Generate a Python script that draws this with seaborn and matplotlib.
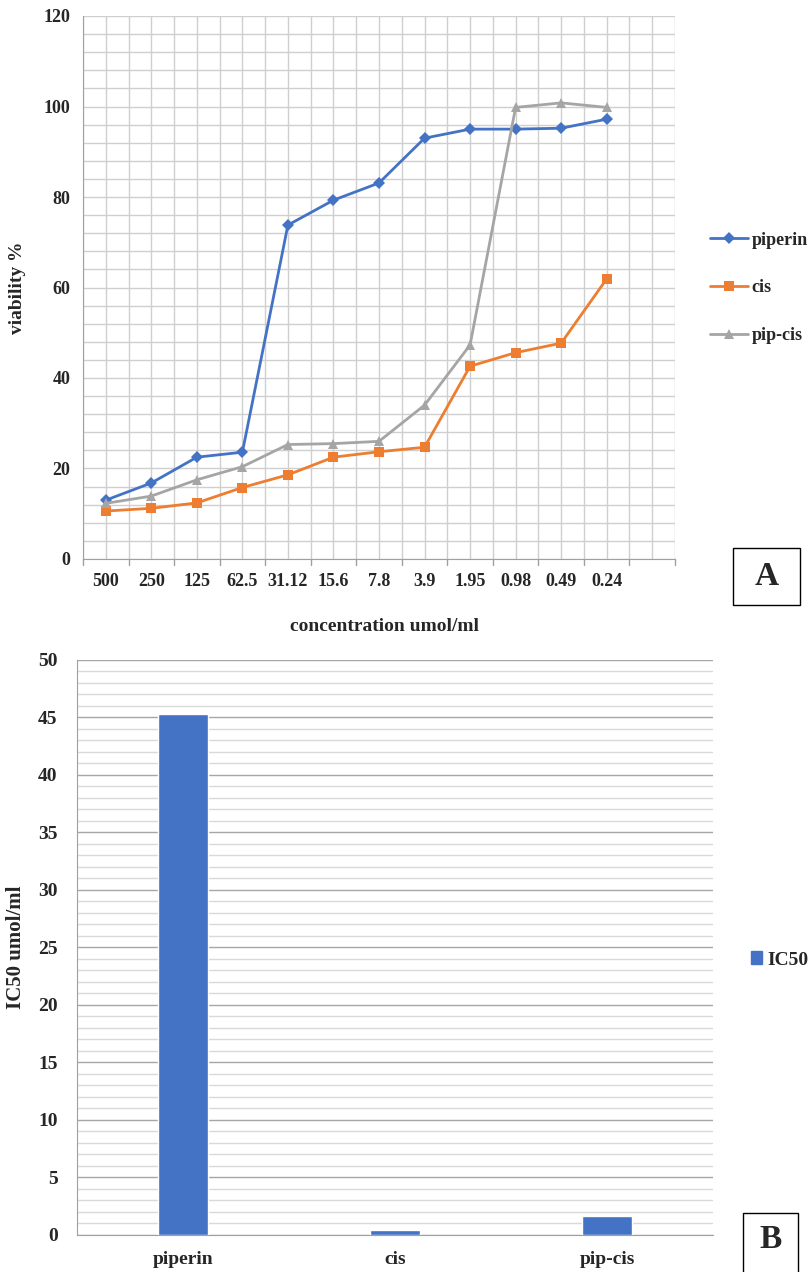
import matplotlib as mpl
mpl.use('Agg')
from matplotlib import pyplot as plt
from matplotlib.patches import Patch, Rectangle
from matplotlib.ticker import MultipleLocator
import numpy as np
import pandas as pd
import seaborn as sb

sb.set_style("white")
mpl.rcParams['font.family'] = ['Liberation Serif', 'DejaVu Serif']
mpl.rcParams['font.weight'] = 'bold'

# panel A data
conc = ["500", "250", "125", "62.5", "31.12", "15.6", "7.8", "3.9",
        "1.95", "0.98", "0.49", "0.24"]
piperin = [13.0, 16.8, 22.5, 23.6, 73.8, 79.3, 83.1, 93.0, 95.0, 95.0, 95.2, 97.2]
cis = [10.6, 11.2, 12.4, 15.8, 18.6, 22.5, 23.7, 24.7, 42.6, 45.6, 47.7, 61.9]
pipcis = [12.3, 13.9, 17.5, 20.4, 25.3, 25.5, 26.0, 34.0, 47.3, 99.8, 100.8, 99.8]
series_names = ["piperin", "cis", "pip-cis"]
colors = ['#4472C4', '#ED7D31', '#A5A5A5']
markers = ['D', 's', '^']

# panel B data
compounds = ["piperin", "cis", "pip-cis"]
ic50 = [45.3, 0.4, 1.65]

df = pd.DataFrame({
    "conc": conc * 3,
    "viability": piperin + cis + pipcis,
    "series": sum([[n] * len(conc) for n in series_names], []),
})

fig = plt.figure(figsize=(8.1, 12.72), dpi=100)
ax1 = fig.add_axes([83/810, 1 - 559/1272, 592/810, 543/1272])
ax2 = fig.add_axes([77/810, 1 - 1234.7/1272, 636/810, 574.7/1272])

# ---- panel A
sb.lineplot(data=df, x="conc", y="viability", hue="series", style="series",
            palette=colors, markers=markers, dashes=False, sort=False,
            linewidth=2, markersize=6.5, markeredgewidth=0, ax=ax1, legend=False)
ax1.set_xlim(-0.5, 12.5)
ax1.set_ylim(0, 120)
ax1.set_xticks(range(len(conc)))
ax1.set_xticklabels(conc, fontsize=13, fontweight='bold')
ax1.set_xticks(np.arange(-0.5, 13, 0.5), minor=True)
ax1.yaxis.set_major_locator(MultipleLocator(20))
ax1.yaxis.set_minor_locator(MultipleLocator(4))
ax1.grid(which='both', color='#cfcfcf', linewidth=1)
ax1.tick_params(axis='x', which='major', length=0, pad=10)
ax1.tick_params(axis='x', which='minor', length=0)
ax1.tick_params(axis='y', which='major', length=5, color='#a0a0a0', labelsize=13, pad=4)
ax1.tick_params(axis='y', which='minor', length=0)
for lab in ax1.get_yticklabels():
    lab.set_fontweight('bold')
# tick marks at category boundaries
for b in np.arange(-0.5, 13, 1.0):
    ax1.plot([b, b], [0, -1.3], color='#a0a0a0', lw=1, clip_on=False)
for s in ['top', 'right']:
    ax1.spines[s].set_visible(False)
for s in ['left', 'bottom']:
    ax1.spines[s].set_color('#a0a0a0')
ax1.set_xlabel("concentration umol/ml", fontsize=14, fontweight='bold')
ax1.xaxis.set_label_coords(0.51, (559 - 618) / 543)
ax1.set_ylabel("viability %", fontsize=14, fontweight='bold')
ax1.yaxis.set_label_coords((26 - 83) / 592, 0.5)

handles = [mpl.lines.Line2D([], [], color=c, marker=m, lw=2, markersize=6.5,
                            markeredgewidth=0) for c, m in zip(colors, markers)]
fig.legend(handles, series_names, loc='center left',
           bbox_to_anchor=(694/810, 1 - 288/1272), frameon=False,
           handlelength=2.1, handletextpad=0.2, labelspacing=1.7,
           prop={'weight': 'bold', 'size': 13})

# ---- panel B
sb.barplot(x=compounds, y=ic50, color='#4472C4', width=0.24, saturation=1,
           ax=ax2, zorder=3)
ax2.set_ylim(0, 50)
ax2.set_xlim(-0.5, 2.5)
ax2.yaxis.set_major_locator(MultipleLocator(5))
ax2.yaxis.set_minor_locator(MultipleLocator(1))
ax2.grid(axis='y', which='minor', color='#d9d9d9', linewidth=1, zorder=0)
ax2.grid(axis='y', which='major', color='#a6a6a6', linewidth=1, zorder=0)
ax2.set_axisbelow(True)
ax2.tick_params(axis='x', length=0, labelsize=14, pad=12)
ax2.tick_params(axis='y', which='major', length=6, color='#a0a0a0', labelsize=14, pad=8)
ax2.tick_params(axis='y', which='minor', length=0)
for lab in ax2.get_xticklabels() + ax2.get_yticklabels():
    lab.set_fontweight('bold')
for s in ['top', 'right']:
    ax2.spines[s].set_visible(False)
for s in ['left', 'bottom']:
    ax2.spines[s].set_color('#a0a0a0')
ax2.set_ylabel("IC50 umol/ml", fontsize=15, fontweight='bold')
ax2.yaxis.set_label_coords((26 - 77) / 636, 0.5)

fig.legend([Patch(color='#4472C4')], ["IC50"], loc='center left',
           bbox_to_anchor=(733/810, 1 - 960/1272), frameon=False,
           handlelength=0.6, handleheight=0.6, handletextpad=0.25,
           prop={'weight': 'bold', 'size': 14})

# panel letters
fig.add_artist(Rectangle((733/810, 1 - 605/1272), 67/810, 57/1272,
                         transform=fig.transFigure, fill=False, lw=1, ec='black'))
fig.text(766.5/810, 1 - 576.5/1272, "A", ha='center', va='center',
         fontsize=24, fontweight='bold')
fig.add_artist(Rectangle((743/810, -0.01), 55/810, (1272 - 1213)/1272 + 0.01,
                         transform=fig.transFigure, fill=False, lw=1, ec='black'))
fig.text(770.5/810, 1 - 1240/1272, "B", ha='center', va='center',
         fontsize=24, fontweight='bold')

fig.savefig('out.png', dpi=100)
